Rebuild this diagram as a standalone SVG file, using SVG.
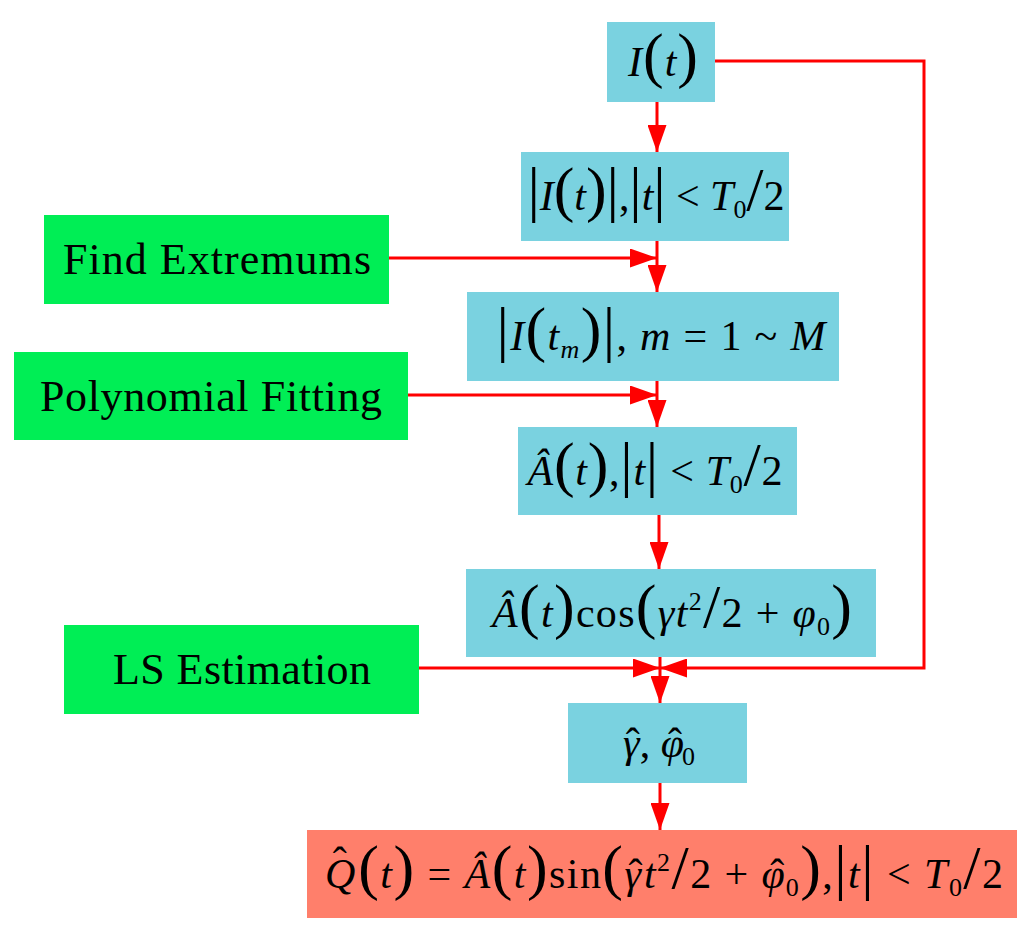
<svg xmlns="http://www.w3.org/2000/svg" width="1024" height="937" viewBox="0 0 1024 937">
<style>
.box{fill:#7AD2E0}
.grn{fill:#00EE55}
.out{fill:#FF7F6B}
.m{font-family:"Liberation Serif",serif;font-size:42px;fill:#000}
.i{font-style:italic}
.b{font-size:62px}
.s{font-size:26px}
.g{font-family:"Liberation Serif",serif;font-size:44px;fill:#000}
.c{fill:none;stroke:#FF0000;stroke-width:3}
</style>
<defs>
<marker id="ah" markerUnits="userSpaceOnUse" markerWidth="27" markerHeight="19" refX="27" refY="9.5" orient="auto">
<path d="M0,0 L27,9.5 L0,19 z" fill="#FF0000"/>
</marker>
</defs>
<rect width="1024" height="937" fill="#FFFFFF"/>

<g id="connectors">
<path class="c" d="M657,102 V152" marker-end="url(#ah)"/>
<path class="c" d="M657,241 V292" marker-end="url(#ah)"/>
<path class="c" d="M389,258 H657" marker-end="url(#ah)"/>
<path class="c" d="M657,381 V427" marker-end="url(#ah)"/>
<path class="c" d="M408,395 H657" marker-end="url(#ah)"/>
<path class="c" d="M659,515 V569" marker-end="url(#ah)"/>
<path class="c" d="M660,657 V703" marker-end="url(#ah)"/>
<path class="c" d="M419,668 H660" marker-end="url(#ah)"/>
<path class="c" d="M714,61 H924 V668 H660" marker-end="url(#ah)"/>
<path class="c" d="M660,783 V830" marker-end="url(#ah)"/>
</g>

<g id="n-it">
<rect class="box" x="607" y="22" width="108" height="80"/>
<text class="m" x="663" y="76" text-anchor="middle" textLength="70" lengthAdjust="spacing"><tspan class="i">I</tspan><tspan class="b">(</tspan><tspan class="i">t</tspan><tspan class="b">)</tspan></text>
</g>

<g id="n-abs">
<rect class="box" x="521" y="152" width="268" height="89"/>
<text class="m" x="656" y="210" text-anchor="middle" textLength="257" lengthAdjust="spacing"><tspan class="b">|</tspan><tspan class="i">I</tspan><tspan class="b">(</tspan><tspan class="i">t</tspan><tspan class="b">)|</tspan>,<tspan class="b">|</tspan><tspan class="i">t</tspan><tspan class="b">|</tspan> &lt; <tspan class="i">T</tspan><tspan class="s" dy="8">0</tspan><tspan class="b" dy="-8">/</tspan>2</text>
</g>

<g id="n-find">
<rect class="grn" x="44" y="215" width="345" height="89"/>
<text class="g" x="217" y="274" text-anchor="middle" textLength="308" lengthAdjust="spacing">Find Extremums</text>
</g>

<g id="n-tm">
<rect class="box" x="467" y="292" width="372" height="89"/>
<text class="m" x="661" y="350" text-anchor="middle" textLength="329" lengthAdjust="spacing"><tspan class="b">|</tspan><tspan class="i">I</tspan><tspan class="b">(</tspan><tspan class="i">t</tspan><tspan class="s i" dy="8">m</tspan><tspan class="b" dy="-8">)|</tspan>, <tspan class="i">m</tspan> = 1 ~ <tspan class="i">M</tspan></text>
</g>

<g id="n-poly">
<rect class="grn" x="14" y="352" width="394" height="88"/>
<text class="g" x="211" y="411" text-anchor="middle" textLength="342" lengthAdjust="spacing">Polynomial Fitting</text>
</g>

<g id="n-at">
<rect class="box" x="518" y="427" width="279" height="88"/>
<text class="m" x="655" y="485" text-anchor="middle" textLength="255" lengthAdjust="spacing"><tspan class="i">Â</tspan><tspan class="b">(</tspan><tspan class="i">t</tspan><tspan class="b">)</tspan>,<tspan class="b">|</tspan><tspan class="i">t</tspan><tspan class="b">|</tspan> &lt; <tspan class="i">T</tspan><tspan class="s" dy="8">0</tspan><tspan class="b" dy="-8">/</tspan>2</text>
</g>

<g id="n-cos">
<rect class="box" x="466" y="569" width="410" height="88"/>
<text class="m" x="672" y="627" text-anchor="middle" textLength="360" lengthAdjust="spacing"><tspan class="i">Â</tspan><tspan class="b">(</tspan><tspan class="i">t</tspan><tspan class="b">)</tspan>cos<tspan class="b">(</tspan><tspan class="i">γt</tspan><tspan class="s" dy="-17">2</tspan><tspan class="b" dy="17">/</tspan>2 + <tspan class="i">φ</tspan><tspan class="s" dy="8">0</tspan><tspan class="b" dy="-8">)</tspan></text>
</g>

<g id="n-ls">
<rect class="grn" x="64" y="625" width="355" height="89"/>
<text class="g" x="242" y="684" text-anchor="middle" textLength="258" lengthAdjust="spacing">LS Estimation</text>
</g>

<g id="n-est">
<rect class="box" x="568" y="703" width="179" height="80"/>
<text class="m" x="659" y="757" text-anchor="middle" font-size="44"><tspan class="i">γ</tspan><tspan dx="-14">ˆ</tspan>, <tspan class="i">φ</tspan><tspan dx="-16">ˆ</tspan><tspan class="s" dy="8">0</tspan></text>
</g>

<g id="n-q">
<rect class="out" x="307" y="830" width="710" height="88"/>
<text class="m" x="664" y="888" text-anchor="middle" textLength="678" lengthAdjust="spacing"><tspan class="i">Q</tspan><tspan dx="-24" dy="-12">ˆ</tspan><tspan class="b" dx="10" dy="12">(</tspan><tspan class="i">t</tspan><tspan class="b">)</tspan> = <tspan class="i">Â</tspan><tspan class="b">(</tspan><tspan class="i">t</tspan><tspan class="b">)</tspan>sin<tspan class="b">(</tspan><tspan class="i">γ</tspan><tspan dx="-14">ˆ</tspan><tspan class="i">t</tspan><tspan class="s" dy="-17">2</tspan><tspan class="b" dy="17">/</tspan>2 + <tspan class="i">φ</tspan><tspan dx="-16">ˆ</tspan><tspan class="s" dy="8">0</tspan><tspan class="b" dy="-8">)</tspan>,<tspan class="b">|</tspan><tspan class="i">t</tspan><tspan class="b">|</tspan> &lt; <tspan class="i">T</tspan><tspan class="s" dy="8">0</tspan><tspan class="b" dy="-8">/</tspan>2</text>
</g>
</svg>
